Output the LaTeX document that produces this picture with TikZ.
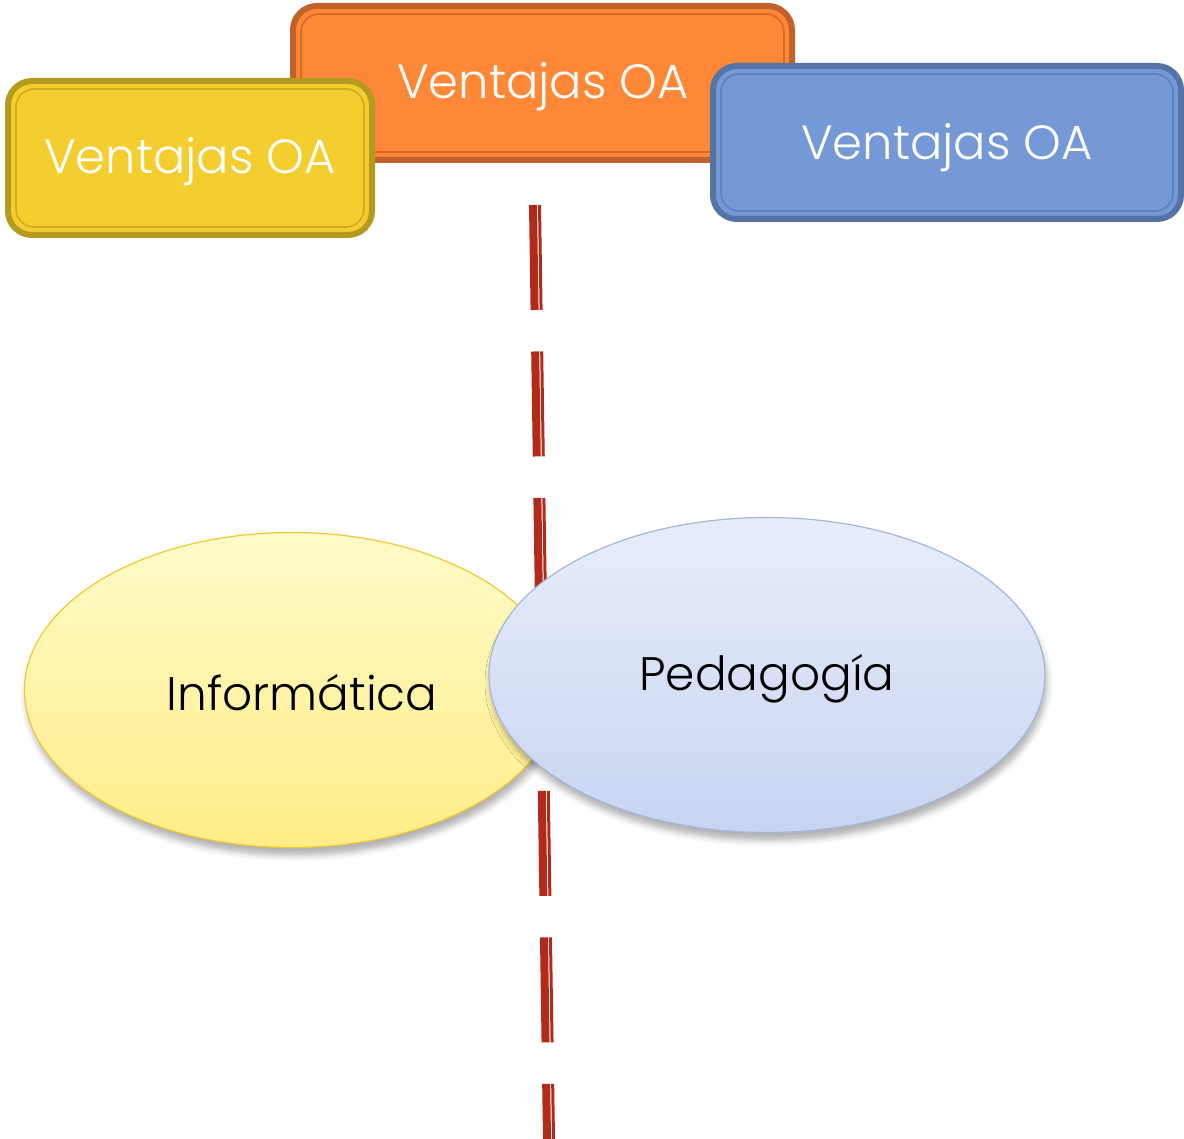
\documentclass[tikz,border=0pt]{standalone}
\usepackage{fontspec}
\setmainfont{Poppins}
\newfontfamily\lightfont{Poppins Light}
\usetikzlibrary{shadows.blur,calc,shapes.geometric}
\definecolor{orfill}{HTML}{FF8838}
\definecolor{orline}{HTML}{C0622A}
\definecolor{orin}{HTML}{D8692A}
\definecolor{yefill}{HTML}{F4CE2F}
\definecolor{yeline}{HTML}{B59A20}
\definecolor{yein}{HTML}{CDAE22}
\definecolor{blfill}{HTML}{7499D6}
\definecolor{blline}{HTML}{5573A6}
\definecolor{blin}{HTML}{5F82BE}
\definecolor{dashred}{HTML}{B22A1A}
\definecolor{ytop}{HTML}{FFFAC8}
\definecolor{ybot}{HTML}{FFEE88}
\definecolor{yedge}{HTML}{F0C830}
\definecolor{btop}{HTML}{E7EDFA}
\definecolor{bbot}{HTML}{C8D4F0}
\definecolor{bedge}{HTML}{A6B6D6}
\tikzset{
  oabox/.style={rounded corners=24pt, line width=6pt, inner sep=0pt, outer sep=0pt},
  oainner/.style={rounded corners=18pt, line width=1.6pt},
  oatext/.style={text=white, font=\lightfont\fontsize{48}{52}\selectfont},
  setell/.style={ellipse, inner sep=0pt, outer sep=0pt, line width=1.2pt,
    blur shadow={shadow xshift=2pt, shadow yshift=-8pt, shadow blur radius=6pt, shadow opacity=30}},
  elltext/.style={text=black, font=\lightfont\fontsize{47}{51}\selectfont},
  dashthick/.style={draw=dashred, line width=8pt, dash pattern=on 105pt off 41.5pt},
  dashthin/.style={draw=dashred, line width=3pt, dash pattern=on 105pt off 41.5pt}
}
\begin{document}
\begin{tikzpicture}[x=1pt,y=-1pt]
\useasboundingbox (0,0) rectangle (1184,1139);
% orange box
\node[oabox, draw=orline, fill=orfill, minimum width=499pt, minimum height=154pt,
  anchor=north west] (orange) at (293,6) {};
\draw[oainner, draw=orin] ([xshift=8pt,yshift=-8pt]orange.north west) rectangle ([xshift=-8pt,yshift=8pt]orange.south east);
\node[oatext] (ortext) at (543,87) {Ventajas OA};
% yellow box
\node[oabox, draw=yeline, fill=yefill, minimum width=364pt, minimum height=154pt,
  anchor=north west] (yellow) at (8,81) {};
\draw[oainner, draw=yein] ([xshift=8pt,yshift=-8pt]yellow.north west) rectangle ([xshift=-8pt,yshift=8pt]yellow.south east);
\node[oatext] (yetext) at (190,162) {Ventajas OA};
% blue box
\node[oabox, draw=blline, fill=blfill, minimum width=468pt, minimum height=153pt,
  anchor=north west] (blue) at (713,66) {};
\draw[oainner, draw=blin] ([xshift=8pt,yshift=-8pt]blue.north west) rectangle ([xshift=-8pt,yshift=8pt]blue.south east);
\node[oatext] (bltext) at (947,148) {Ventajas OA};
% dashed double line
\coordinate (ltop) at (535,205);
\coordinate (lbot) at (549,1139);
\draw[dashthick] ([xshift=-2pt]ltop) -- ([xshift=-2pt]lbot);
\draw[dashthin] ([xshift=4.5pt]ltop) -- ([xshift=4.5pt]lbot);
% ellipses
\node[setell, draw=yedge, top color=ytop, bottom color=ybot,
  minimum width=535pt, minimum height=315pt] (inf) at (292,690) {};
\node[elltext] (inftext) at (302,693) {Informática};
\node[setell, draw=bedge, top color=btop, bottom color=bbot,
  minimum width=556pt, minimum height=315pt] (ped) at (767,675) {};
\node[elltext] (pedtext) at (767,679) {Pedagogía};
\end{tikzpicture}
\end{document}
